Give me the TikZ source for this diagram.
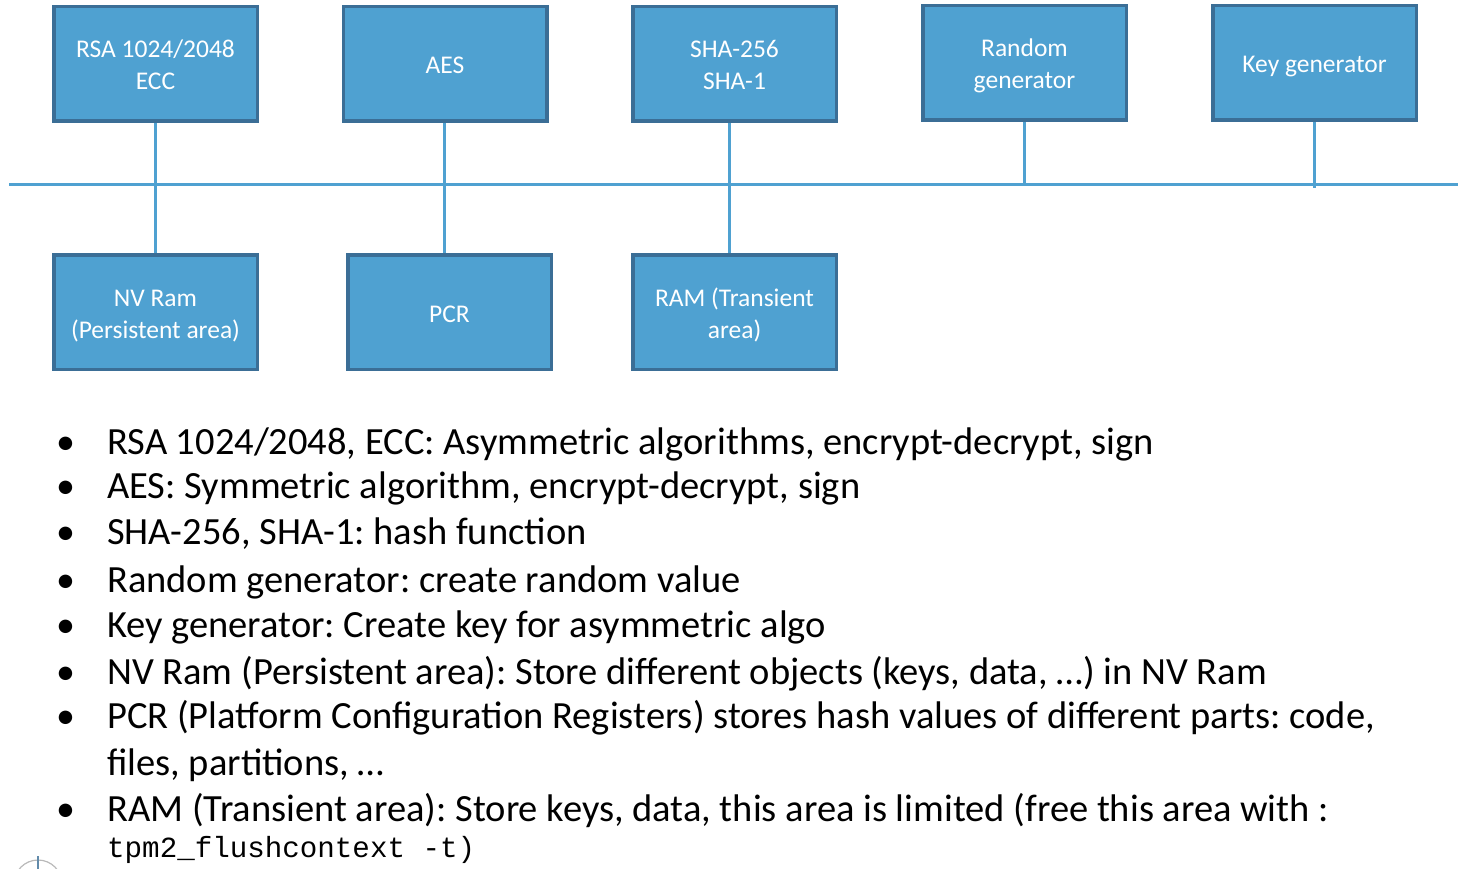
\documentclass[tikz,border=0pt]{standalone}
\usepackage{fontspec}
\setmainfont{Carlito}
\setmonofont{Liberation Mono}
\frenchspacing
\definecolor{boxfill}{RGB}{79,161,209}
\definecolor{boxline}{RGB}{59,110,150}
\definecolor{busline}{RGB}{79,161,209}
\newcommand\bxs{\rule[-6pt]{0pt}{32pt}}
\tikzset{
  blk/.style={draw=boxline, fill=boxfill, line width=3.5pt, minimum width=203.5pt, minimum height=114.5pt,
    inner sep=0pt, align=center, text=white, font=\fontsize{25.5}{32}\selectfont},
  wire/.style={draw=busline, line width=3pt},
  item/.style={anchor=base west, inner sep=0pt, font=\fontsize{38.5}{46}\selectfont},
  dot/.style={anchor=base west, inner sep=0pt, font=\fontsize{38}{46}\selectfont},
  code/.style={anchor=base west, inner sep=0pt, font=\fontsize{29.2}{35}\selectfont\ttfamily}
}
\begin{document}
\begin{tikzpicture}[x=1pt,y=-1pt]
\useasboundingbox (0,0) rectangle (1463,869);
\clip (0,0) rectangle (1463,869);
% bus
\coordinate (busL) at (9,185);
\coordinate (busR) at (1458,185);
% boxes
\node[blk] (rsa) at (155.5,64) {\bxs RSA 1024/2048\\\bxs ECC};
\node[blk] (aes) at (445,64) {\bxs AES};
\node[blk] (sha) at (734.5,64) {\bxs SHA-256\\\bxs SHA-1};
\node[blk] (rnd) at (1024.5,63) {\bxs Random\\\bxs generator};
\node[blk] (key) at (1314.5,63) {\bxs Key generator};
\node[blk] (nv) at (155.5,312) {\bxs NV Ram\\\bxs (Persistent area)};
\node[blk] (pcr) at (449.5,312) {\bxs PCR};
\node[blk] (ram) at (734.5,312) {\bxs RAM (Transient\\\bxs area)};
% connectors
\draw[wire] (busL) -- (busR);
\draw[wire] (rsa.south) -- (nv.north);
\draw[wire] ([xshift=-1pt]aes.south) -- ([xshift=-1pt]aes.south |- pcr.north);
\draw[wire] ([xshift=-5.5pt]sha.south) -- ([xshift=-5.5pt]sha.south |- ram.north);
\draw[wire] (rnd.south) -- (rnd.south |- busL);
\draw[wire] ([xshift=-0.5pt]key.south) -- ([xshift=-0.5pt,yshift=-3pt]key.south |- busL);
% bullet list
\foreach \y in {454,498,544,592,637,684,728,821}{
  \node[dot] (b\y) at (56,\y) {\textbullet};
}
\node[item] (t1) at (107,454) {RSA 1024/2048, ECC: Asymmetric algorithms, encrypt-decrypt, sign};
\node[item] (t2) at (107,498) {AES: Symmetric algorithm, encrypt-decrypt, sign};
\node[item] (t3) at (107,544) {SHA-256, SHA-1: hash function};
\node[item] (t4) at (107,592) {Random generator: create random value};
\node[item] (t5) at (107,637) {Key generator: Create key for asymmetric algo};
\node[item] (t6) at (107,684) {NV Ram (Persistent area): Store different objects (keys, data, …) in NV Ram};
\node[item] (t7) at (107,728) {PCR (Platform Configuration Registers) stores hash values of different parts: code,};
\node[item] (t7b) at (107,775) {files, partitions, …};
\node[item] (t8) at (107,821) {RAM (Transient area): Store keys, data, this area is limited (free this area with :};
\node[code] (t8b) at (107,857) {tpm2\_flushcontext -t)};
% slide artifact bottom-left
\draw[gray!55, line width=1.2pt] (38,884) circle (24);
\draw[boxline!80, line width=2pt] (38,856) -- (38,869);
\end{tikzpicture}
\end{document}
